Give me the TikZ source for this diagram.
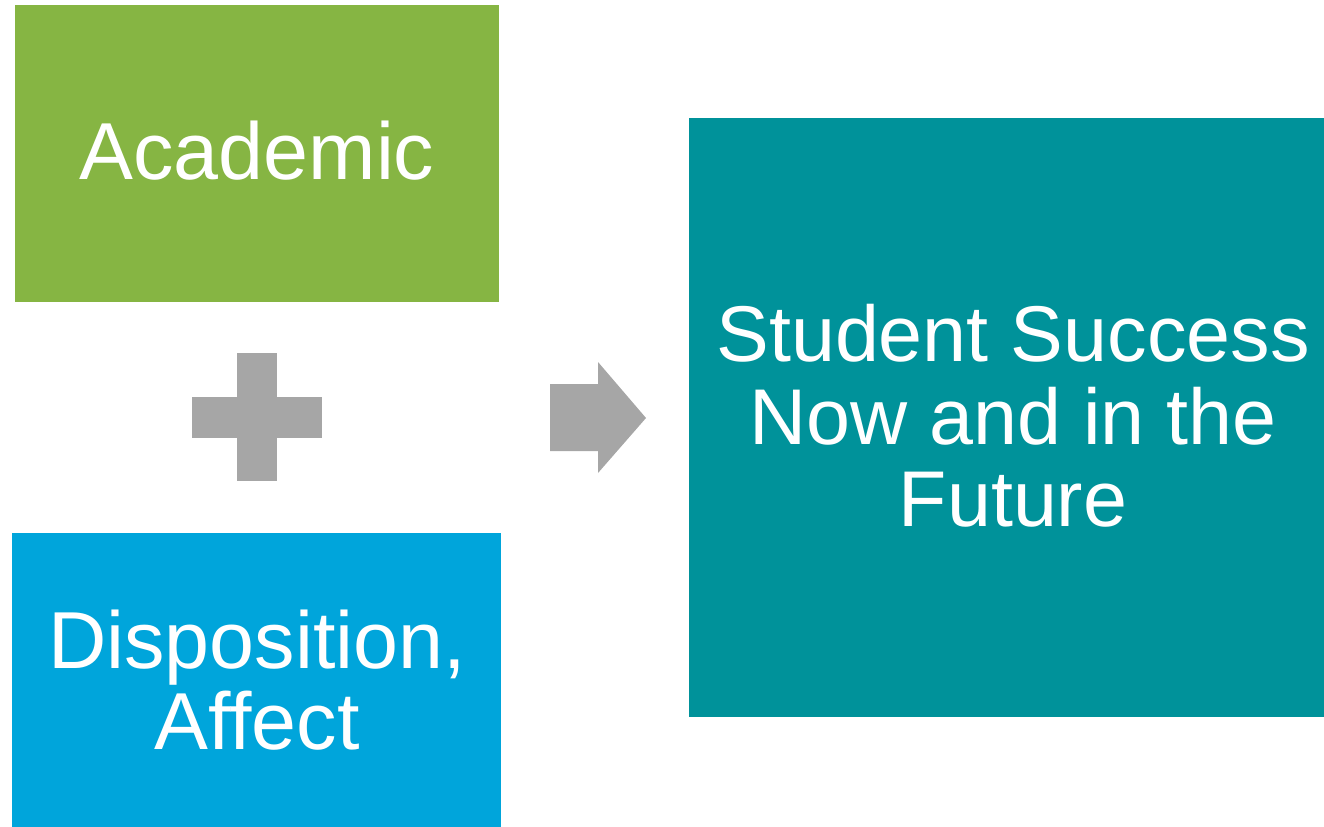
\documentclass[tikz,border=0pt]{standalone}
\usepackage{fontspec}
\setmainfont{Liberation Sans}
\definecolor{cgreen}{HTML}{86B543}
\definecolor{cblue}{HTML}{00A5DB}
\definecolor{cteal}{HTML}{00929A}
\definecolor{cgray}{HTML}{A6A6A6}
\begin{document}
\begin{tikzpicture}[x=0.02cm,y=-0.02cm,
  boxtext/.style={text=white,align=center},
  plusbar/.style={fill=cgray,draw=none}]
\useasboundingbox (0,0) rectangle (1324,827);
\fill[cgreen] (15,5) rectangle (499,302);
\node[boxtext,font=\fontsize{46}{52}\selectfont] (acad) at (257,151) {Academic};
\fill[cblue] (12,533) rectangle (501,827);
\node[boxtext,font=\fontsize{46}{46.5}\selectfont] (disp) at (257,680) {Disposition,\\Affect};
\fill[cteal] (689,118) rectangle (1324,717);
\node[boxtext,font=\fontsize{45}{47}\selectfont] (succ) at (1013,416) {Student Success\\Now and in the\\Future};
\fill[plusbar] (237,353) rectangle (277,481);
\fill[plusbar] (192,397) rectangle (322,438);
\fill[cgray] (550,384) -- (598,384) -- (598,362) -- (646,418) -- (598,473) -- (598,451) -- (550,451) -- cycle;
\end{tikzpicture}
\end{document}
